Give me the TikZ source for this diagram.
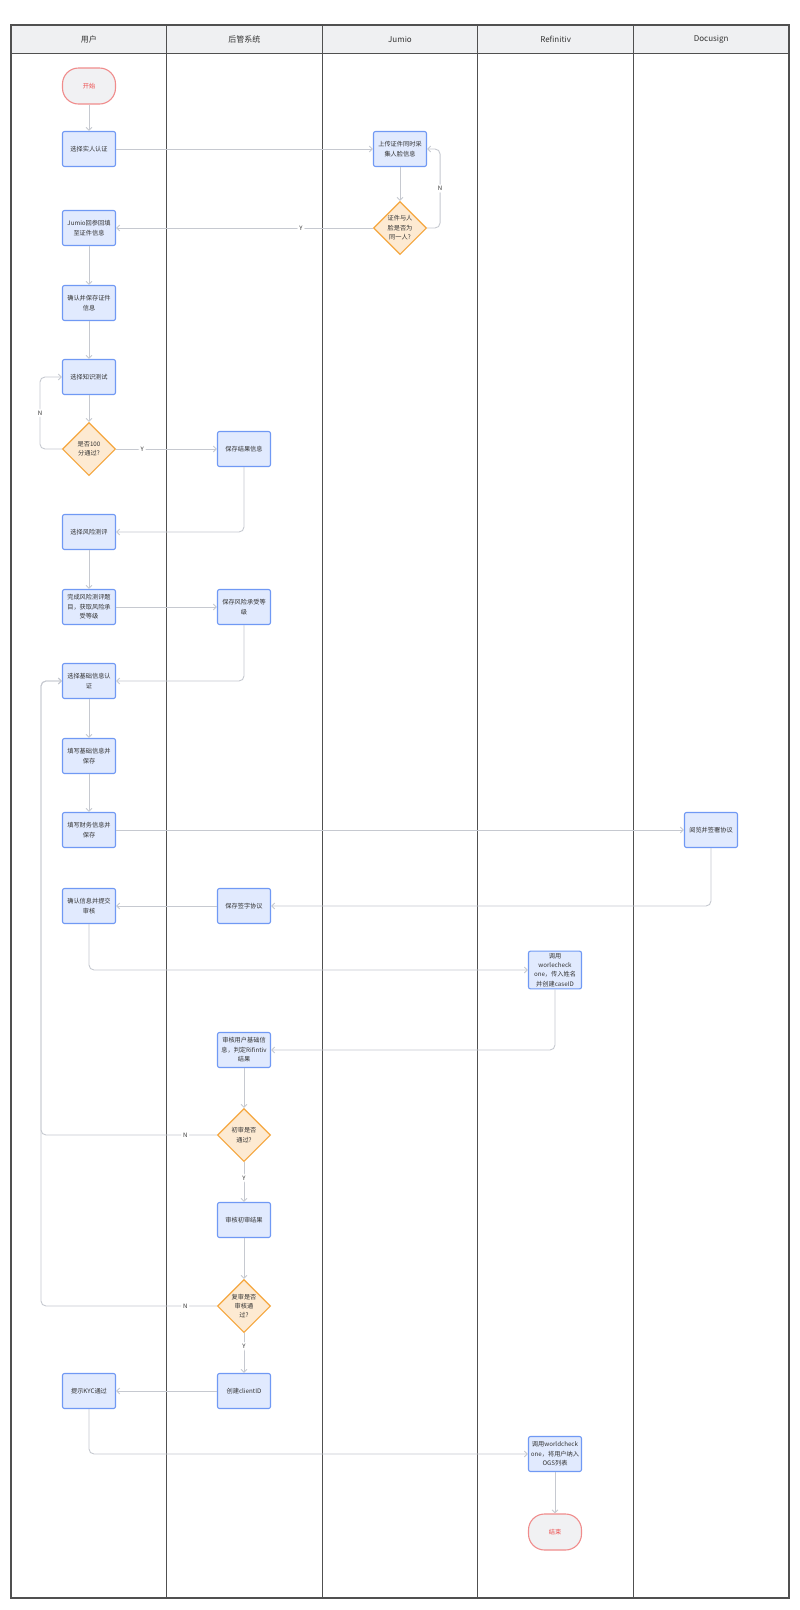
\documentclass[tikz,border=0pt]{standalone}
\usepackage{fontspec}
\setmainfont{Noto Sans CJK SC}
\usepackage{tikz}
\usetikzlibrary{shapes.geometric,arrows.meta}

\definecolor{boxfill}{HTML}{E1EAFE}
\definecolor{boxdraw}{HTML}{7099F4}
\definecolor{diafill}{HTML}{FDEAD2}
\definecolor{diadraw}{HTML}{F5A63E}
\definecolor{termfill}{HTML}{F1F1F3}
\definecolor{termdraw}{HTML}{F08C8C}
\definecolor{termtext}{HTML}{EE4B4B}
\definecolor{conngray}{HTML}{C6C9D0}
\definecolor{headfill}{HTML}{EFF0F2}
\definecolor{lanegray}{HTML}{505050}
\definecolor{txtgray}{HTML}{333333}

\begin{document}
\begin{tikzpicture}[x=1pt,y=-1pt,
    every node/.style={font=\fontsize{6.2}{9.4}\selectfont, text=txtgray},
    proc/.style={shape=rectangle, rounded corners=2pt, draw=boxdraw, fill=boxfill, line width=1.1pt, minimum width=53pt, minimum height=35pt, inner sep=2pt, align=center},
    dec/.style={shape=diamond, draw=diadraw, fill=diafill, line width=1.1pt, minimum width=53pt, minimum height=53pt, inner sep=0pt, align=center},
    term/.style={shape=rectangle, rounded corners=16pt, draw=termdraw, fill=termfill, line width=1.1pt, minimum width=53pt, minimum height=36pt, text=termtext},
    conn/.style={draw=conngray, line width=0.9pt, rounded corners=5pt, -{Straight Barb[length=3pt,width=6pt]}},
    lbl/.style={fill=white, inner sep=2pt, font=\fontsize{6}{7}\selectfont},
    lane/.style={draw=lanegray, line width=1pt},
    head/.style={font=\fontsize{8}{10}\selectfont}]

    \useasboundingbox[fill=white] (0,0) rectangle (800,1610);

    \fill[headfill] (11,25) rectangle (789,53);
    \draw[lane] (11,53) -- (789,53);
    \foreach \x in {166.6,322.2,477.8,633.4}
        \draw[lane] (\x,25) -- (\x,1598);
    \draw[lane, line width=1.4pt] (11,25) rectangle (789,1598);
    \foreach \t [count=\i] in {用户,后管系统,Jumio,Refinitiv,Docusign}
        \node[head] (h\i) at ({11+155.6*(\i-0.5)},39) {\t};

    \node[term] (1) at (89,86) {开始};
    \node[proc] (2) at (89,149) {选择实人认证};
    \node[proc] (3) at (400,149) {上传证件同时采\\集人脸信息};
    \node[dec] (4) at (400,228) {证件与人\\脸是否为\\同一人?};
    \node[proc] (5) at (89,228) {Jumio回参回填\\至证件信息};
    \node[proc] (6) at (89,303) {确认并保存证件\\信息};
    \node[proc] (7) at (89,377) {选择知识测试};
    \node[dec] (8) at (89,449) {是否100\\分通过?};
    \node[proc] (9) at (244,449) {保存结果信息};
    \node[proc] (10) at (89,532) {选择风险测评};
    \node[proc] (11) at (89,607) {完成风险测评题\\目，获取风险承\\受等级};
    \node[proc] (12) at (244,607) {保存风险承受等\\级};
    \node[proc] (13) at (89,681) {选择基础信息认\\证};
    \node[proc] (14) at (89,756) {填写基础信息并\\保存};
    \node[proc] (15) at (89,830) {填写财务信息并\\保存};
    \node[proc] (16) at (711,830) {阅览并签署协议};
    \node[proc] (17) at (244,906) {保存签字协议};
    \node[proc] (18) at (89,906) {确认信息并提交\\审核};
    \node[proc] (19) at (555,970) {调用\\worlecheck\\one，传入姓名\\并创建caseID};
    \node[proc] (20) at (244,1050) {审核用户基础信\\息，判定Rifintiv\\结果};
    \node[dec] (21) at (244,1135) {初审是否\\通过?};
    \node[proc] (22) at (244,1220) {审核初审结果};
    \node[dec] (23) at (244,1306) {复审是否\\审核通\\过?};
    \node[proc] (24) at (244,1391) {创建clientID};
    \node[proc] (25) at (89,1391) {提示KYC通过};
    \node[proc] (26) at (555,1454) {调用worldcheck\\one，将用户纳入\\OGS列表};
    \node[term] (27) at (555,1532) {结束};

    \coordinate (c1) at (41,1135);
    \coordinate (c2) at (41,1306);

    \path[conn] (1) edge (2)
        (2) edge (3)
        (3) edge (4)
        (4) edge node[lbl,pos=0.28] {Y} (5)
        (5) edge (6)
        (6) edge (7)
        (7) edge (8)
        (8) edge node[lbl,pos=0.26] {Y} (9)
        (10) edge (11)
        (11) edge (12)
        (13) edge (14)
        (14) edge (15)
        (15) edge (16)
        (17) edge (18)
        (20) edge (21)
        (21) edge node[lbl,pos=0.4] {Y} (22)
        (22) edge (23)
        (23) edge node[lbl,pos=0.33] {Y} (24)
        (24) edge (25)
        (26) edge (27);

    \draw[conn] (4.east) -- ++(13,0) |- node[lbl,pos=0.25] {N} (3.east);
    \draw[conn] (8.west) -- ++(-22,0) |- node[lbl,pos=0.25] {N} (7.west);
    \draw[conn] (9.south) |- (10.east);
    \draw[conn] (12.south) |- (13.east);
    \draw[conn] (16.south) |- (17.east);
    \draw[conn] (18.south) |- (19.west);
    \draw[conn] (19.south) |- (20.east);
    \draw[conn] (21.west) -- node[lbl,pos=0.18] {N} (c1) |- (13.west);
    \draw[conn] (23.west) -- node[lbl,pos=0.18] {N} (c2) |- (13.west);
    \draw[conn] (25.south) |- (26.west);
\end{tikzpicture}
\end{document}
